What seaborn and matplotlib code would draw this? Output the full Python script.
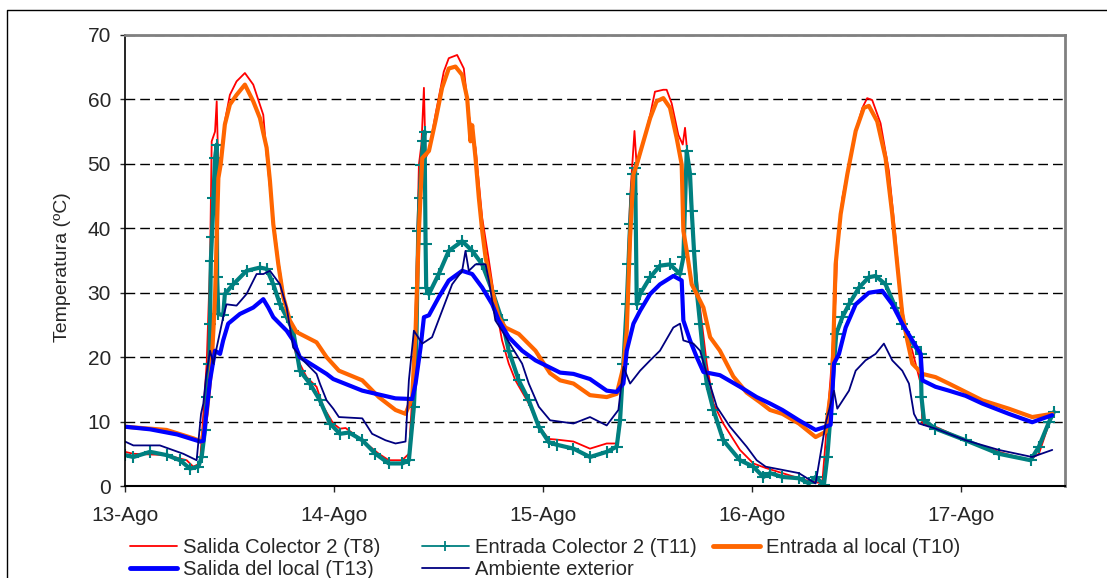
import matplotlib.pyplot as plt
import seaborn as sns
from matplotlib.lines import Line2D

# Time in days counted from 13-Ago 00:00, temperature in ºC

# Salida Colector 2 (T8)
t8_dia = [0, 0.04, 0.199, 0.295, 0.327, 0.359, 0.375, 0.391, 0.407, 0.415, 0.431, 0.439, 0.447, 0.455,
          0.478, 0.502, 0.534, 0.574, 0.614, 0.662, 0.678, 0.702, 0.734, 0.766, 0.789, 0.821, 0.869,
          0.917, 0.949, 0.997, 1.029, 1.056, 1.136, 1.215, 1.263, 1.327, 1.359, 1.375, 1.391, 1.407,
          1.419, 1.431, 1.439, 1.455, 1.486, 1.526, 1.550, 1.590, 1.622, 1.646, 1.678, 1.710, 1.742,
          1.773, 1.805, 1.837, 1.869, 1.933, 1.981, 2.029, 2.067, 2.147, 2.226, 2.306, 2.354, 2.378,
          2.402, 2.418, 2.439, 2.450, 2.482, 2.514, 2.537, 2.577, 2.593, 2.617, 2.649, 2.670, 2.681,
          2.697, 2.721, 2.745, 2.785, 2.817, 2.864, 2.944, 3.008, 3.067, 3.147, 3.258, 3.338, 3.378,
          3.402, 3.410, 3.434, 3.466, 3.498, 3.530, 3.553, 3.577, 3.617, 3.657, 3.689, 3.713, 3.737,
          3.769, 3.809, 3.817, 3.880, 4.024, 4.183, 4.327, 4.375, 4.439]
t8_temp = [5.3, 5.0, 4.8, 4.0, 3.0, 3.5, 11.2, 19.0, 34.4, 53.5, 55.0, 59.7, 48.9, 49.9,
           56.6, 60.7, 62.8, 64.1, 62.3, 57.6, 51.4, 43.7, 35.0, 28.2, 25.2, 20.0, 16.9,
           15.4, 12.3, 9.7, 8.9, 9.0, 7.1, 5.0, 4.0, 4.0, 5.0, 13.8, 26.7, 49.9,
           53.0, 61.8, 50.9, 52.0, 57.6, 64.3, 66.4, 66.9, 64.8, 57.6, 52.5, 41.6, 35.0,
           28.2, 22.6, 19.0, 16.4, 12.8, 9.2, 7.3, 7.2, 6.9, 5.8, 6.6, 6.6, 13.8,
           29.3, 44.7, 55.1, 49.4, 53.5, 57.6, 61.2, 61.5, 61.5, 59.4, 54.5, 53.0, 55.6,
           49.9, 37.5, 29.8, 19.0, 12.8, 9.7, 5.6, 3.5, 2.8, 2.0, 0.9, 0.4, 16.9,
           29.3, 37.0, 44.7, 49.9, 55.1, 58.7, 60.2, 59.9, 56.3, 48.9, 38.6, 29.3, 24.1,
           21.0, 15.9, 9.7, 9.2, 7.1, 5.3, 4.0, 5.0, 11.2]

# Entrada Colector 2 (T11)
t11_dia = [0, 0.04, 0.12, 0.199, 0.263, 0.311, 0.351, 0.367, 0.383, 0.391, 0.404, 0.407, 0.411, 0.416,
           0.423, 0.431, 0.439, 0.441, 0.447, 0.470, 0.478, 0.518, 0.582, 0.646, 0.678, 0.710, 0.742,
           0.774, 0.805, 0.837, 0.885, 0.933, 0.981, 1.029, 1.072, 1.136, 1.199, 1.263, 1.327, 1.359,
           1.383, 1.394, 1.399, 1.404, 1.410, 1.419, 1.427, 1.434, 1.439, 1.442, 1.455, 1.502, 1.550,
           1.614, 1.662, 1.710, 1.758, 1.805, 1.837, 1.885, 1.933, 1.981, 2.029, 2.067, 2.147, 2.226,
           2.306, 2.354, 2.370, 2.386, 2.402, 2.410, 2.418, 2.426, 2.434, 2.442, 2.450, 2.466, 2.514,
           2.561, 2.609, 2.657, 2.673, 2.689, 2.705, 2.713, 2.724, 2.737, 2.753, 2.769, 2.785, 2.817,
           2.864, 2.944, 3.008, 3.056, 3.088, 3.147, 3.226, 3.274, 3.306, 3.346, 3.362, 3.378, 3.394,
           3.405, 3.434, 3.466, 3.514, 3.561, 3.593, 3.641, 3.689, 3.721, 3.753, 3.785, 3.809, 3.813,
           3.825, 3.880, 4.024, 4.183, 4.335, 4.375, 4.423, 4.447]
t11_temp = [4.8, 4.5, 5.3, 4.8, 4.0, 2.7, 3.0, 4.5, 8.7, 13.8, 19.0, 25.2, 35.0, 38.6,
            44.7, 50.9, 53.0, 32.4, 26.7, 26.5, 29.8, 31.3, 33.4, 33.9, 33.7, 31.3, 28.2,
            26.2, 24.1, 17.9, 15.9, 13.3, 9.7, 8.1, 8.3, 7.1, 5.0, 3.5, 3.5, 4.0,
            12.3, 20.0, 30.8, 39.6, 44.7, 49.9, 53.5, 55.0, 37.5, 30.8, 29.8, 32.9, 36.5,
            38.0, 36.5, 34.4, 30.3, 25.7, 21.0, 16.4, 13.3, 9.2, 6.8, 6.4, 5.8, 4.5,
            5.3, 6.1, 10.2, 19.0, 28.2, 34.4, 40.6, 45.3, 48.4, 49.4, 28.2, 29.8, 32.4,
            34.2, 34.4, 32.9, 35.5, 52.0, 48.4, 42.7, 36.5, 30.3, 25.2, 20.0, 15.9, 11.8,
            7.1, 4.0, 3.0, 1.4, 2.0, 1.4, 1.2, 0.4, 1.4, 0.2, 4.5, 11.2, 19.0,
            23.6, 26.2, 28.2, 30.8, 32.4, 32.6, 31.3, 27.7, 25.2, 23.1, 21.5, 20.5, 13.8,
            10.2, 8.9, 7.1, 5.0, 4.0, 6.1, 9.9, 11.5]

# Entrada al local (T10)
t10_dia = [0, 0.199, 0.327, 0.367, 0.391, 0.415, 0.431, 0.447, 0.458, 0.478, 0.502, 0.534, 0.574,
           0.614, 0.646, 0.678, 0.694, 0.710, 0.734, 0.758, 0.789, 0.821, 0.917, 0.965, 1.024, 1.136,
           1.215, 1.295, 1.343, 1.375, 1.391, 1.407, 1.423, 1.455, 1.486, 1.518, 1.550, 1.582, 1.614,
           1.638, 1.654, 1.662, 1.678, 1.694, 1.710, 1.726, 1.758, 1.789, 1.821, 1.885, 1.965, 2.035,
           2.083, 2.147, 2.226, 2.306, 2.354, 2.386, 2.402, 2.418, 2.434, 2.450, 2.482, 2.514, 2.545,
           2.577, 2.609, 2.641, 2.665, 2.673, 2.689, 2.713, 2.737, 2.769, 2.801, 2.848, 2.912, 2.976,
           3.040, 3.088, 3.147, 3.226, 3.306, 3.354, 3.386, 3.402, 3.426, 3.458, 3.498, 3.537, 3.561,
           3.601, 3.641, 3.673, 3.697, 3.721, 3.745, 3.769, 3.817, 3.880, 3.944, 4.024, 4.104, 4.231,
           4.343, 4.439]
t10_temp = [9.2, 8.7, 7.4, 6.9, 11.2, 19.0, 29.3, 47.8, 49.9, 56.1, 59.2, 60.7, 62.3,
            59.7, 57.1, 52.5, 47.3, 40.6, 34.4, 29.3, 25.7, 23.9, 22.3, 20.0, 17.9, 16.4,
            13.8, 11.8, 11.2, 13.8, 24.1, 39.6, 50.9, 52.0, 56.6, 61.8, 64.8, 65.1, 63.8,
            60.2, 53.5, 56.0, 50.9, 44.7, 39.6, 35.5, 30.3, 26.2, 24.6, 23.6, 21.0, 17.5,
            16.4, 15.9, 14.1, 13.8, 14.3, 18.5, 24.1, 38.6, 48.4, 49.9, 53.5, 57.1, 59.7,
            60.2, 58.7, 54.0, 49.9, 39.6, 36.5, 31.3, 29.8, 27.7, 23.1, 21.0, 17.0, 14.5,
            13.0, 11.8, 11.2, 9.7, 7.6, 8.4, 16.4, 34.4, 42.2, 48.4, 55.1, 58.7, 59.0,
            56.6, 50.9, 42.2, 34.4, 26.7, 22.6, 19.0, 17.4, 16.9, 15.9, 14.6, 13.3, 12.0,
            10.7, 11.2]

# Salida del local (T13)
t13_dia = [0, 0.12, 0.25, 0.359, 0.375, 0.407, 0.431, 0.455, 0.470, 0.494, 0.550, 0.614, 0.662,
           0.686, 0.710, 0.774, 0.805, 0.837, 0.901, 0.965, 0.997, 1.136, 1.295, 1.375, 1.391, 1.415,
           1.431, 1.455, 1.502, 1.550, 1.614, 1.662, 1.710, 1.758, 1.789, 1.837, 1.901, 1.965, 2.083,
           2.147, 2.226, 2.306, 2.354, 2.386, 2.402, 2.434, 2.466, 2.514, 2.561, 2.625, 2.665, 2.673,
           2.705, 2.737, 2.769, 2.848, 2.944, 3.024, 3.088, 3.147, 3.226, 3.306, 3.354, 3.378, 3.394,
           3.418, 3.450, 3.498, 3.561, 3.625, 3.673, 3.721, 3.769, 3.809, 3.817, 3.880, 3.944, 4.024,
           4.104, 4.231, 4.343, 4.439]
t13_temp = [9.2, 8.8, 8.0, 6.9, 7.0, 16.4, 21.0, 20.5, 22.6, 25.2, 26.7, 27.7, 29.0,
            27.7, 26.2, 24.1, 22.6, 20.0, 18.7, 17.4, 16.6, 14.8, 13.6, 13.5, 15.9, 21.5,
            26.2, 26.5, 29.3, 31.9, 33.4, 32.9, 30.8, 28.2, 25.7, 23.1, 21.0, 19.5, 17.6,
            17.4, 16.6, 14.8, 14.6, 15.9, 21.0, 25.2, 27.2, 29.8, 31.3, 32.6, 31.9, 25.7,
            22.6, 20.0, 17.7, 17.2, 15.4, 13.8, 12.8, 11.8, 10.2, 8.7, 9.2, 9.5, 19.0,
            20.5, 24.6, 28.2, 30.0, 30.3, 28.2, 25.2, 22.6, 20.5, 16.4, 15.4, 14.8, 14.0,
            12.8, 11.2, 9.9, 11.0]

# Ambiente exterior
amb_dia = [0, 0.04, 0.167, 0.279, 0.343, 0.364, 0.375, 0.388, 0.407, 0.423, 0.439, 0.470, 0.486,
           0.534, 0.582, 0.630, 0.662, 0.694, 0.742, 0.774, 0.805, 0.853, 0.917, 0.933, 0.965, 0.997,
           1.024, 1.136, 1.183, 1.247, 1.295, 1.343, 1.359, 1.383, 1.423, 1.470, 1.518, 1.566, 1.614,
           1.630, 1.646, 1.678, 1.726, 1.742, 1.773, 1.805, 1.853, 1.901, 1.933, 1.981, 2.035, 2.147,
           2.226, 2.306, 2.362, 2.386, 2.418, 2.466, 2.514, 2.561, 2.625, 2.657, 2.673, 2.721, 2.753,
           2.785, 2.833, 2.896, 2.976, 3.024, 3.067, 3.147, 3.226, 3.306, 3.354, 3.394, 3.410, 3.466,
           3.498, 3.545, 3.593, 3.633, 3.673, 3.721, 3.753, 3.777, 3.801, 3.880, 4.024, 4.183, 4.343,
           4.439]
amb_temp = [6.9, 6.3, 6.3, 5.0, 4.0, 11.2, 12.8, 16.9, 21.0, 19.0, 21.5, 26.2, 28.2,
            28.0, 29.8, 32.9, 32.9, 33.4, 31.3, 27.7, 21.5, 19.5, 17.4, 15.9, 13.3, 12.0,
            10.7, 10.5, 8.1, 7.1, 6.6, 6.9, 16.4, 24.1, 22.1, 23.1, 27.2, 31.3, 33.4,
            36.5, 33.4, 34.4, 34.4, 31.9, 25.7, 24.1, 21.5, 19.0, 15.9, 12.3, 10.2, 9.7,
            10.7, 9.4, 11.8, 18.5, 15.9, 17.9, 19.5, 21.0, 24.6, 25.2, 22.6, 22.1, 21.0,
            17.4, 12.3, 9.2, 6.1, 4.0, 3.0, 2.5, 2.0, 0.4, 9.7, 14.8, 12.0, 14.8,
            17.9, 19.5, 20.5, 22.1, 19.5, 17.9, 15.9, 11.2, 9.7, 8.9, 7.1, 5.6, 4.5,
            5.6]

dias_ticks = [0, 1, 2, 3, 4]
dias_labels = ["13-Ago", "14-Ago", "15-Ago", "16-Ago", "17-Ago"]

sns.set_style("white")
plt.rcParams["font.family"] = ["Liberation Sans", "DejaVu Sans"]

fig, ax = plt.subplots(figsize=(11.07, 5.78), dpi=100)
fig.subplots_adjust(left=125 / 1107, right=1065 / 1107, top=1 - 35 / 578, bottom=1 - 486 / 578)

# series in the same order as the legend (later ones drawn on top)
sns.lineplot(x=t8_dia, y=t8_temp, ax=ax, color="#FF0000", lw=1.3, estimator=None, sort=False)
sns.lineplot(x=t11_dia, y=t11_temp, ax=ax, color="#008080", lw=3, marker="+", markersize=8,
             markeredgewidth=1.5, markeredgecolor="#008080", estimator=None, sort=False)
sns.lineplot(x=t10_dia, y=t10_temp, ax=ax, color="#FF6600", lw=3, estimator=None, sort=False)
sns.lineplot(x=t13_dia, y=t13_temp, ax=ax, color="#0000FF", lw=3, estimator=None, sort=False)
sns.lineplot(x=amb_dia, y=amb_temp, ax=ax, color="#000080", lw=1.3, estimator=None, sort=False)

ax.set_xlim(0, 4.5)
ax.set_ylim(0, 70)
ax.set_xticks(dias_ticks)
ax.set_xticklabels(dias_labels)
ax.set_yticks(range(0, 71, 10))
ax.tick_params(axis="x", labelsize=15, length=4.3, width=1, direction="out", pad=10, bottom=True)
ax.tick_params(axis="y", labelsize=15, length=3.6, width=1, direction="out", pad=6.5, left=True)

ax.yaxis.grid(True, color="black", lw=1, dashes=(7, 3.6))
ax.xaxis.grid(False)
ax.set_axisbelow(True)

for side in ["top", "right"]:
    ax.spines[side].set_color("#808080")
    ax.spines[side].set_linewidth(2)
ax.spines["left"].set_color("black")
ax.spines["left"].set_linewidth(1.2)
ax.spines["bottom"].set_color("black")
ax.spines["bottom"].set_linewidth(1.5)

ax.set_xlabel("")
ax.set_ylabel("Temperatura (ºC)", fontsize=14)
ax.yaxis.set_label_coords(-0.057, 0.486)

# legend: three columns placed like the original
h_t8 = Line2D([], [], color="#FF0000", lw=1.3)
h_t11 = Line2D([], [], color="#008080", lw=1.3, marker="+", markersize=7, markeredgewidth=1.3)
h_t10 = Line2D([], [], color="#FF6600", lw=3.5)
h_t13 = Line2D([], [], color="#0000FF", lw=3.5)
h_amb = Line2D([], [], color="#000080", lw=1.3)

leg_kw = dict(frameon=False, fontsize=14.6, loc="upper left", borderpad=0, borderaxespad=0,
              handlelength=2.3, handletextpad=0.3, labelspacing=0.15, bbox_transform=fig.transFigure)
leg1 = fig.legend([h_t8, h_t13], ["Salida Colector 2 (T8)", "Salida del local (T13)"],
                  bbox_to_anchor=(130 / 1107, 1 - 538 / 578), **leg_kw)
leg2 = fig.legend([h_t11, h_amb], ["Entrada Colector 2 (T11)", "Ambiente exterior"],
                  bbox_to_anchor=(422 / 1107, 1 - 538 / 578), **leg_kw)
leg3 = fig.legend([h_t10], ["Entrada al local (T10)"],
                  bbox_to_anchor=(713 / 1107, 1 - 538 / 578), **leg_kw)

# outer chart border
fig.add_artist(Line2D([7 / 1107, 7 / 1107, 1], [0, 1 - 10 / 578, 1 - 10 / 578],
                      transform=fig.transFigure, color="black", lw=1))

fig.savefig("out.png", dpi=100)
